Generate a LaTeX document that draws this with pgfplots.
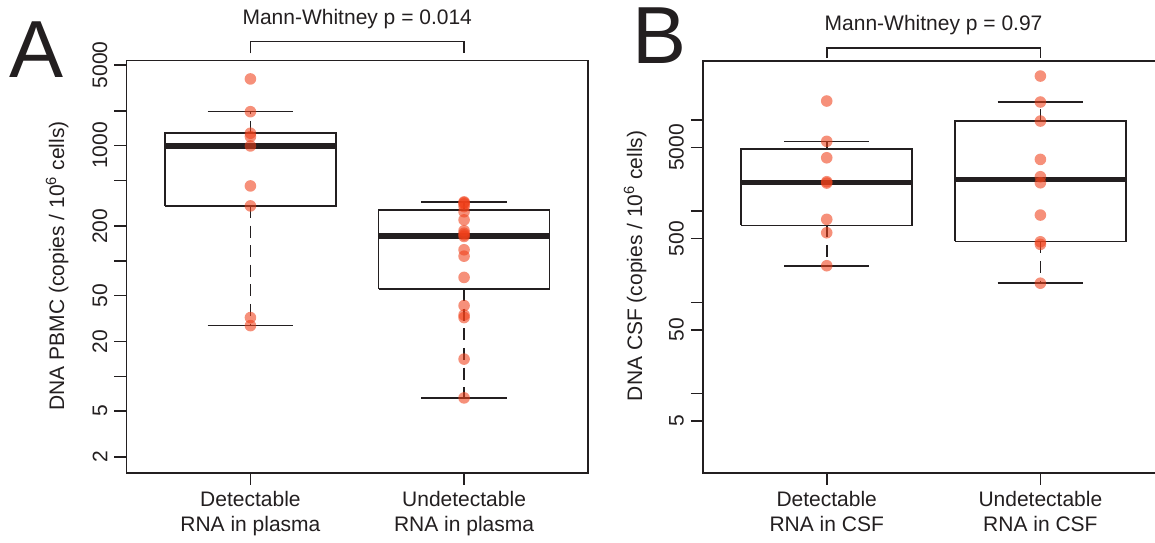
\documentclass[border=0pt]{standalone}
\usepackage{pgfplots}
\pgfplotsset{compat=1.18}
\usepackage{fontspec}
\setmainfont{Liberation Sans}
\definecolor{ink}{RGB}{35,31,32}
\definecolor{ptcol}{RGB}{240,64,26}

\pgfplotsset{
  boxln/.style={ink, line width=0.8pt, no marks},
  medln/.style={ink, line width=2.7pt, no marks},
  whisk/.style={ink, line width=0.8pt, no marks, dash pattern=on 6pt off 3.8pt},
  pts/.style={only marks, color=ptcol, mark=*, mark size=2.9pt, mark options={draw opacity=0, fill=ptcol, fill opacity=0.58}},
}

\begin{document}
\begin{tikzpicture}[font=\fontsize{10.5pt}{12.5pt}\selectfont]
\clip (0,0) rectangle (577.5pt,271pt);

% ---------------- Panel A ----------------
\begin{axis}[
  scale only axis, width=230.75pt, height=206pt,
  anchor=south west, at={(63.25pt,34.65pt)},
  xmin=0.42, xmax=2.58,
  ymode=log, yminorticks=false,
  axis line style={ink, line width=0.8pt},
  tick pos=left, tick align=outside, major tick length=6pt,
  tick style={ink, line width=0.8pt},
  xtick={1,2},
  xticklabel style={align=center, text=ink},
  yticklabel style={rotate=90, anchor=south, text=ink},
  clip=false,
  ymin=1.46, ymax=5445,
  ytick={2,5,10,20,50,100,200,500,1000,2000,5000},
  yticklabels={2,5,,20,50,,200,,1000,,5000},
  xticklabels={{Detectable\\RNA in plasma},{Undetectable\\RNA in plasma}},
]
% box 1
\addplot[whisk] coordinates {(1,1280) (1,1968)};
\addplot[whisk] coordinates {(1,300) (1,27.5)};
\addplot[boxln] coordinates {(0.8,1968) (1.2,1968)};
\addplot[boxln] coordinates {(0.8,27.5) (1.2,27.5)};
\addplot[boxln, fill=white] coordinates {(0.6,300) (1.4,300) (1.4,1280) (0.6,1280) (0.6,300)};
\addplot[medln] coordinates {(0.6,993) (1.4,993)};
% box 2
\addplot[whisk] coordinates {(2,275) (2,325)};
\addplot[whisk] coordinates {(2,57) (2,6.5)};
\addplot[boxln] coordinates {(1.8,325) (2.2,325)};
\addplot[boxln] coordinates {(1.8,6.5) (2.2,6.5)};
\addplot[boxln, fill=white] coordinates {(1.6,57) (2.4,57) (2.4,275) (1.6,275) (1.6,57)};
\addplot[medln] coordinates {(1.6,165) (2.4,165)};
% points
\addplot[pts] coordinates {(1,3783) (1,1968) (1,1280) (1,1196) (1,993) (1,447) (1,300) (1,32.3) (1,27.5)};
\addplot[pts] coordinates {(2,325) (2,320) (2,312) (2,296) (2,267) (2,227) (2,183) (2,174) (2,168) (2,163) (2,125) (2,110) (2,72) (2,41) (2,34) (2,32.3) (2,14.1) (2,6.5)};
% annotation
\draw[ink, line width=0.8pt] (axis description cs:0.2685,1.018) -- (axis description cs:0.2685,1.0461) -- (axis description cs:0.7315,1.0461) -- (axis description cs:0.7315,1.018);
\node[anchor=base, text=ink] at (axis description cs:0.5,1.089) {Mann-Whitney p = 0.014};
\end{axis}

% ---------------- Panel B ----------------
\begin{axis}[
  scale only axis, width=230.75pt, height=206pt,
  anchor=south west, at={(351.4pt,34.65pt)},
  xmin=0.42, xmax=2.58,
  ymode=log, yminorticks=false,
  axis line style={ink, line width=0.8pt},
  tick pos=left, tick align=outside, major tick length=6pt,
  tick style={ink, line width=0.8pt},
  xtick={1,2},
  xticklabel style={align=center, text=ink},
  yticklabel style={rotate=90, anchor=south, text=ink},
  clip=false,
  ymin=1.355, ymax=44560,
  ytick={5,10,50,100,500,1000,5000,10000},
  yticklabels={5,,50,,500,,5000,},
  xticklabels={{Detectable\\RNA in CSF},{Undetectable\\RNA in CSF}},
]
% box 1
\addplot[whisk] coordinates {(1,4790) (1,5818)};
\addplot[whisk] coordinates {(1,698) (1,252)};
\addplot[boxln] coordinates {(0.8,5818) (1.2,5818)};
\addplot[boxln] coordinates {(0.8,252) (1.2,252)};
\addplot[boxln, fill=white] coordinates {(0.6,698) (1.4,698) (1.4,4790) (0.6,4790) (0.6,698)};
\addplot[medln] coordinates {(0.6,2066) (1.4,2066)};
% box 2
\addplot[whisk] coordinates {(2,9710) (2,15700)};
\addplot[whisk] coordinates {(2,465) (2,162)};
\addplot[boxln] coordinates {(1.8,15700) (2.2,15700)};
\addplot[boxln] coordinates {(1.8,162) (2.2,162)};
\addplot[boxln, fill=white] coordinates {(1.6,465) (2.4,465) (2.4,9710) (1.6,9710) (1.6,465)};
\addplot[medln] coordinates {(1.6,2228) (2.4,2228)};
% points
\addplot[pts] coordinates {(1,16100) (1,5818) (1,3846) (1,2100) (1,2030) (1,812) (1,579) (1,252)};
\addplot[pts] coordinates {(2,30250) (2,15700) (2,9710) (2,3690) (2,2381) (2,2046) (2,905) (2,461) (2,432) (2,162)};
% annotation
\draw[ink, line width=0.8pt] (axis description cs:0.2685,1.0061) -- (axis description cs:0.2685,1.0303) -- (axis description cs:0.7315,1.0303) -- (axis description cs:0.7315,1.0061);
\node[anchor=base, text=ink] at (axis description cs:0.5,1.0745) {Mann-Whitney p = 0.97};
\end{axis}

% axis titles and panel letters
\node[rotate=90, anchor=base, text=ink] at (32pt,138.1pt) {DNA PBMC (copies / 10\textsuperscript{6} cells)};
\node[rotate=90, anchor=base, text=ink] at (321pt,138.1pt) {DNA CSF (copies / 10\textsuperscript{6} cells)};
\node[anchor=base west, inner sep=0pt, text=ink, font=\fontsize{40.5pt}{40.5pt}\selectfont] at (4.5pt,232.35pt) {A};
\node[anchor=base west, inner sep=0pt, text=ink, font=\fontsize{40.5pt}{40.5pt}\selectfont] at (316pt,239.35pt) {B};
\end{tikzpicture}
\end{document}
